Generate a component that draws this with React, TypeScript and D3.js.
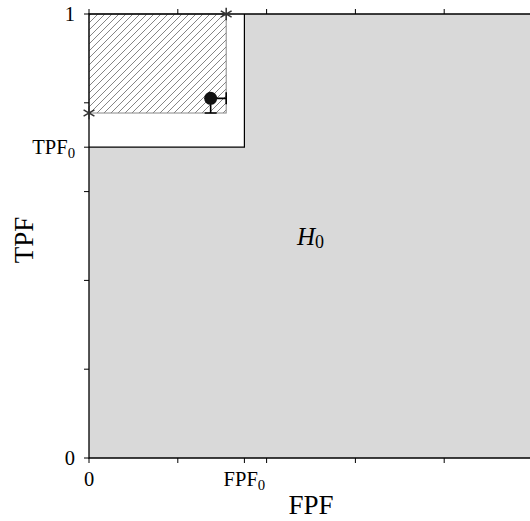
import React, { useRef, useEffect } from "react";
import * as d3 from "d3";

// operating point thresholds
const thresholdNames = ["FPF0", "TPF0"];
const thresholdValues = [0.35, 0.7];

// observed point and its upper confidence limits
const pointFPF = [0.274];
const pointTPF = [0.81];
const upperFPF = [0.309];
const lowerTPF = [0.777];

// asterisks on the axes
const starFPF = [0.309, 0];
const starTPF = [1, 0.777];

const minorTicks = [0.2, 0.4, 0.6, 0.8];

const W = 530,
  H = 521;

function App() {
  const svgRef = useRef<SVGSVGElement>(null);

  useEffect(() => {
    const svg = d3.select(svgRef.current);
    svg.selectAll("*").remove();

    const x = d3.scaleLinear().domain([0, 1]).range([89, 533]);
    const y = d3.scaleLinear().domain([0, 1]).range([458, 14]);
    const fpf0 = thresholdValues[0],
      tpf0 = thresholdValues[1];
    const font = "'Liberation Serif', 'DejaVu Serif', serif";

    const defs = svg.append("defs");
    const pat = defs
      .append("pattern")
      .attr("id", "hatch")
      .attr("patternUnits", "userSpaceOnUse")
      .attr("width", 7)
      .attr("height", 7);
    pat
      .append("path")
      .attr("d", "M0,7L7,0M-1,1L1,-1M6,8L8,6")
      .attr("stroke", "#777")
      .attr("stroke-width", 0.9);

    // gray H0 region
    svg
      .append("rect")
      .attr("x", x(0))
      .attr("y", y(1))
      .attr("width", x(1) - x(0))
      .attr("height", y(0) - y(1))
      .attr("fill", "#d9d9d9");

    // white rejection region
    svg
      .append("rect")
      .attr("x", x(0))
      .attr("y", y(1))
      .attr("width", x(fpf0) - x(0))
      .attr("height", y(tpf0) - y(1))
      .attr("fill", "#fff");
    svg
      .append("path")
      .attr("d", `M${x(fpf0)},${y(1)}V${y(tpf0)}H${x(0)}`)
      .attr("fill", "none")
      .attr("stroke", "#000")
      .attr("stroke-width", 1.2);

    // hatched confidence region
    svg
      .append("rect")
      .attr("x", x(0))
      .attr("y", y(1))
      .attr("width", x(upperFPF[0]) - x(0))
      .attr("height", y(lowerTPF[0]) - y(1))
      .attr("fill", "url(#hatch)")
      .attr("stroke", "#888")
      .attr("stroke-width", 1);

    // frame
    svg
      .append("path")
      .attr("d", `M${x(1)},${y(1)}H${x(0)}V${y(0)}H${x(1)}`)
      .attr("fill", "none")
      .attr("stroke", "#000")
      .attr("stroke-width", 1.3);

    // ticks
    const tl = 5;
    const leftTicks = [0, ...minorTicks, tpf0, 1];
    svg
      .selectAll(".lt")
      .data(leftTicks)
      .enter()
      .append("line")
      .attr("x1", x(0) - tl)
      .attr("x2", x(0))
      .attr("y1", (d) => y(d))
      .attr("y2", (d) => y(d))
      .attr("stroke", "#000");
    const bottomTicks = [0, ...minorTicks, fpf0];
    svg
      .selectAll(".bt")
      .data(bottomTicks)
      .enter()
      .append("line")
      .attr("x1", (d) => x(d))
      .attr("x2", (d) => x(d))
      .attr("y1", y(0))
      .attr("y2", y(0) + tl)
      .attr("stroke", "#000");
    svg
      .selectAll(".tt")
      .data([0, ...minorTicks])
      .enter()
      .append("line")
      .attr("x1", (d) => x(d))
      .attr("x2", (d) => x(d))
      .attr("y1", y(1))
      .attr("y2", y(1) - tl)
      .attr("stroke", "#000");

    // tick labels
    const sub = (sel: any, base: string, s: string) => {
      sel.append("tspan").text(base);
      sel
        .append("tspan")
        .attr("font-size", "0.72em")
        .attr("dy", "0.28em")
        .text(s);
    };
    const ylab = [
      { v: 0, t: "0" },
      { v: tpf0, t: thresholdNames[1] },
      { v: 1, t: "1" },
    ];
    ylab.forEach((d) => {
      const t = svg
        .append("text")
        .attr("x", x(0) - 14)
        .attr("y", y(d.v) + 7)
        .attr("text-anchor", "end")
        .attr("font-family", font)
        .attr("font-size", 20.5);
      if (d.t.length > 1) sub(t, d.t.slice(0, 3), d.t.slice(3));
      else t.text(d.t);
    });
    const xlab = [
      { v: 0, t: "0" },
      { v: fpf0, t: thresholdNames[0] },
    ];
    xlab.forEach((d) => {
      const t = svg
        .append("text")
        .attr("x", x(d.v))
        .attr("y", y(0) + 28)
        .attr("text-anchor", "middle")
        .attr("font-family", font)
        .attr("font-size", 20.5);
      if (d.t.length > 1) sub(t, d.t.slice(0, 3), d.t.slice(3));
      else t.text(d.t);
    });

    // axis titles
    svg
      .append("text")
      .attr("x", 311)
      .attr("y", 514)
      .attr("text-anchor", "middle")
      .attr("font-family", font)
      .attr("font-size", 27)
      .text("FPF");
    svg
      .append("text")
      .attr("transform", "translate(33,240) rotate(-90)")
      .attr("text-anchor", "middle")
      .attr("font-family", font)
      .attr("font-size", 27)
      .text("TPF");

    // H0 label
    const h = svg
      .append("text")
      .attr("x", 297)
      .attr("y", 245)
      .attr("font-family", font)
      .attr("font-size", 25);
    h.append("tspan").attr("font-style", "italic").text("H");
    h.append("tspan")
      .attr("font-size", 18)
      .attr("dy", 3)
      .text("0");

    // point with one-sided error bars
    const g = svg.append("g").attr("stroke", "#000").attr("stroke-width", 1.6);
    pointFPF.forEach((px, i) => {
      const cx = x(px),
        cy = y(pointTPF[i]);
      const ex = x(upperFPF[i]),
        ey = y(lowerTPF[i]);
      g.append("path").attr(
        "d",
        `M${cx},${cy}H${ex}M${ex},${cy - 6}V${cy + 6}M${cx},${cy}V${ey}M${cx - 6},${ey}H${cx + 6}`
      );
      svg
        .append("circle")
        .attr("cx", cx)
        .attr("cy", cy)
        .attr("r", 6.5)
        .attr("fill", "#111");
    });

    // asterisks
    const star = d3.symbol().type(d3.symbolAsterisk).size(110);
    svg
      .selectAll(".star")
      .data(starFPF)
      .enter()
      .append("path")
      .attr("d", star)
      .attr("transform", (d, i) => `translate(${x(d)},${y(starTPF[i])})`)
      .attr("fill", "none")
      .attr("stroke", "#333")
      .attr("stroke-width", 1.5);
  }, []);

  return (
    <svg
      ref={svgRef}
      width={W}
      height={H}
      style={{ position: "absolute", left: 0, top: 0, background: "#fff" }}
    />
  );
}

export default App;
